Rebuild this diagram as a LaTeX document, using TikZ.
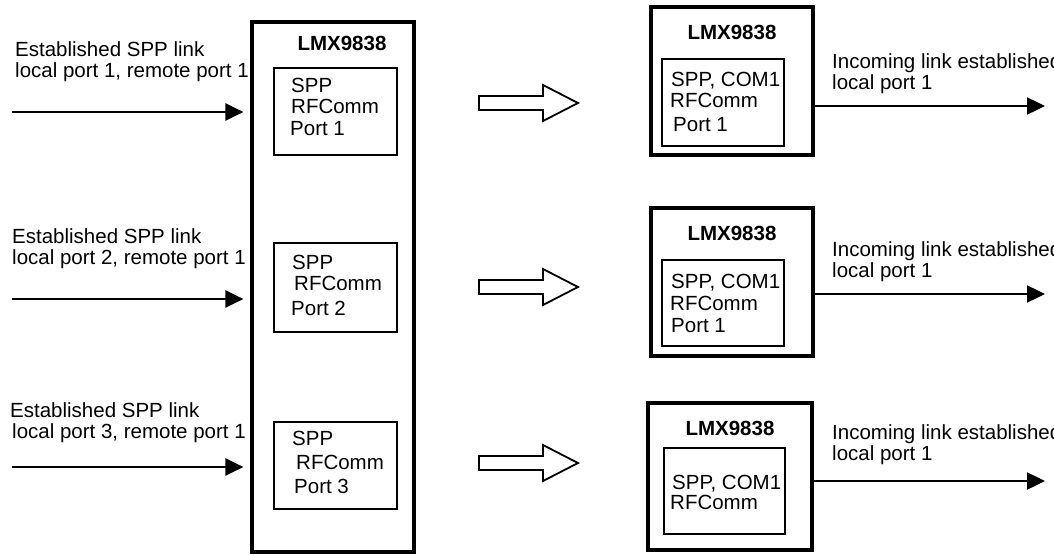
\documentclass[tikz,border=0pt]{standalone}
\usepackage{fontspec}
\setmainfont{Liberation Sans}
\usetikzlibrary{arrows.meta}
\begin{document}
\begin{tikzpicture}[x=1pt,y=-1pt,
  outerbox/.style={draw, line width=3.2pt, inner sep=0pt},
  innerbox/.style={draw, line width=2.6pt, inner sep=0pt},
  txt/.style={anchor=base west, inner sep=0pt, font=\fontsize{20.5}{22}\selectfont},
  ttl/.style={anchor=base, inner sep=0pt, font=\fontsize{20.5}{22}\selectfont\bfseries},
  arr/.style={line width=2.4pt, -{Triangle[length=18pt,width=17pt]}},
  hollow/.style={draw, line width=1.8pt, line join=miter, fill=white}
]
\clip (0,0) rectangle (1054,554);
\useasboundingbox (0,0) rectangle (1054,554);

% ---------- left big box ----------
\node[outerbox, minimum width=162pt, minimum height=530pt] (big) at (333,287) {};
\node[ttl] (bigt) at (342,50) {LMX9838};
\node[innerbox, minimum width=123pt, minimum height=87pt] (p1) at (335.5,111.5) {};
\node[innerbox, minimum width=123pt, minimum height=89pt] (p2) at (335.5,287.5) {};
\node[innerbox, minimum width=123pt, minimum height=87pt] (p3) at (335.5,465.5) {};

\node[txt] (p1a) at (291,92) {SPP};
\node[txt] (p1b) at (291,113) {RFComm};
\node[txt] (p1c) at (290,135) {Port 1};

\node[txt] (p2a) at (292,269) {SPP};
\node[txt] (p2b) at (294,290) {RFComm};
\node[txt] (p2c) at (291,315) {Port 2};

\node[txt] (p3a) at (292,445) {SPP};
\node[txt] (p3b) at (296,469) {RFComm};
\node[txt] (p3c) at (294,493) {Port 3};

% ---------- left incoming arrows ----------
\node[txt] (l1a) at (15,56) {Established SPP link};
\node[txt] (l1b) at (15,77) {local port 1, remote port 1};
\node[txt] (l2a) at (12,243) {Established SPP link};
\node[txt] (l2b) at (12,264) {local port 2, remote port 1};
\node[txt] (l3a) at (10,417) {Established SPP link};
\node[txt] (l3b) at (12,438) {local port 3, remote port 1};

\coordinate (s1) at (12,112);
\coordinate (s2) at (12,299);
\coordinate (s3) at (12,467);
\draw[arr, shorten >=7pt] (s1) -- (big.west |- s1);
\draw[arr, shorten >=7pt] (s2) -- (big.west |- s2);
\draw[arr, shorten >=7pt] (s3) -- (big.west |- s3);

% ---------- hollow arrows ----------
\foreach \yy in {103,287,463}{
  \draw[hollow] (479,\yy-7) -- (543,\yy-7) -- (543,\yy-18) -- (578,\yy)
     -- (543,\yy+18) -- (543,\yy+7) -- (479,\yy+7) -- cycle;
}

% ---------- right boxes ----------
\node[outerbox, minimum width=162pt, minimum height=148pt] (r1) at (732,81) {};
\node[outerbox, minimum width=162pt, minimum height=148pt] (r2) at (732,282) {};
\node[outerbox, minimum width=164pt, minimum height=147pt] (r3) at (730,476.5) {};

\node[ttl] (r1t) at (732,39) {LMX9838};
\node[ttl] (r2t) at (732,240) {LMX9838};
\node[ttl] (r3t) at (730,435) {LMX9838};

\node[innerbox, minimum width=122pt, minimum height=87pt] (q1) at (723,102.5) {};
\node[innerbox, minimum width=122pt, minimum height=86pt] (q2) at (723,303) {};
\node[innerbox, minimum width=121pt, minimum height=86pt] (q3) at (724.5,491) {};

\node[txt] (q1a) at (671,86) {SPP, COM1};
\node[txt] (q1b) at (670,107) {RFComm};
\node[txt] (q1c) at (673,131) {Port 1};

\node[txt] (q2a) at (671,288) {SPP, COM1};
\node[txt] (q2b) at (670,310) {RFComm};
\node[txt] (q2c) at (671,332) {Port 1};

\node[txt] (q3a) at (672,489) {SPP, COM1};
\node[txt] (q3b) at (670,509) {RFComm};

% ---------- right outgoing arrows ----------
\node[txt] (o1a) at (832,68) {Incoming link established};
\node[txt] (o1b) at (832,89) {local port 1};
\node[txt] (o2a) at (832,256) {Incoming link established};
\node[txt] (o2b) at (832,277) {local port 1};
\node[txt] (o3a) at (832,439) {Incoming link established};
\node[txt] (o3b) at (832,460) {local port 1};

\coordinate (t1) at (1045,106);
\coordinate (t2) at (1045,294);
\coordinate (t3) at (1045,481);
\draw[arr] (r1.east |- t1) -- (t1);
\draw[arr] (r2.east |- t2) -- (t2);
\draw[arr] (r3.east |- t3) -- (t3);
\end{tikzpicture}
\end{document}
